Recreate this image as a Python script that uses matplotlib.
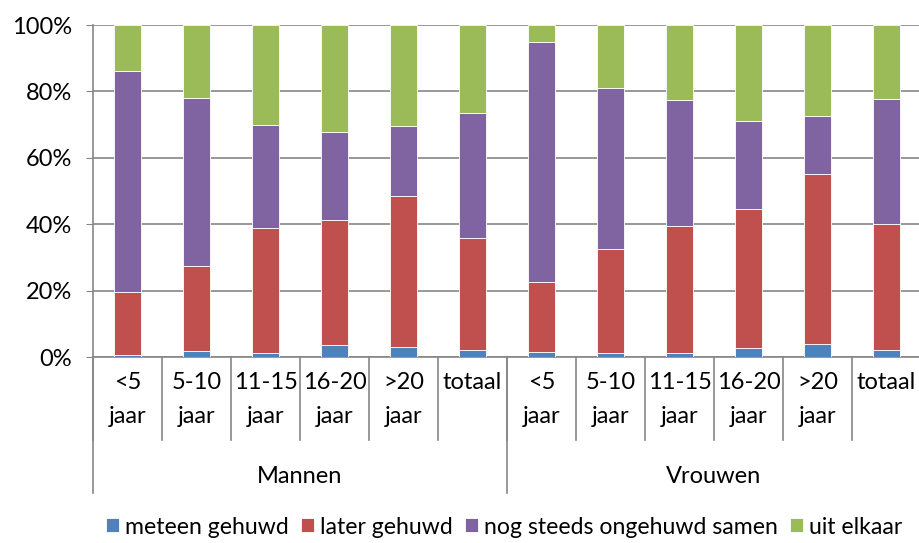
import numpy as np
import matplotlib.pyplot as plt
from matplotlib.ticker import FuncFormatter

plt.rcParams['font.family'] = ['Lato', 'DejaVu Sans']

groups = ['Mannen', 'Vrouwen']
periods = ['<5\njaar', '5-10\njaar', '11-15\njaar', '16-20\njaar', '>20\njaar', 'totaal\n ']
series = ['meteen gehuwd', 'later gehuwd', 'nog steeds ongehuwd samen', 'uit elkaar']
colors = ['#4F81BD', '#C0504D', '#8064A2', '#9BBB59']

# cumulative tops (%), Mannen then Vrouwen
meteen = [0.6, 1.8, 1.2, 3.6, 3.0, 2.0, 1.5, 1.3, 1.3, 2.7, 3.9, 2.1]
later_top = [19.5, 27.4, 38.9, 41.2, 48.5, 35.8, 22.6, 32.5, 39.5, 44.5, 55.1, 40.2]
samen_top = [86.0, 77.9, 70.0, 67.9, 69.5, 73.6, 95.0, 81.1, 77.5, 71.2, 72.6, 77.6]

later = np.array(later_top) - np.array(meteen)
samen = np.array(samen_top) - np.array(later_top)
uit = 100 - np.array(samen_top)
values = [np.array(meteen), later, samen, uit]

fig = plt.figure(figsize=(9.2, 5.43), dpi=100)
ax = fig.add_axes([93 / 920, 1 - 357 / 543, 828 / 920, 332 / 543])

x = np.arange(len(meteen))
bottom = np.zeros(len(x))
for name, vals, col in zip(series, values, colors):
    ax.bar(x, vals, bottom=bottom, width=0.4, color=col, edgecolor='#ffffff',
           linewidth=0.6, label=name, zorder=3)
    bottom += vals

fs = 17
ax.set_xlim(-0.5, len(x) - 0.5)
ax.set_ylim(0, 100)
ax.set_yticks(np.arange(0, 101, 20))
ax.yaxis.set_major_formatter(FuncFormatter(lambda v, p: f'{int(v)}%'))
ax.tick_params(axis='y', labelsize=fs, length=5, color='#868686', pad=10)
ax.grid(axis='y', color='#868686', linewidth=1.2, zorder=0)
ax.set_xticks([])
for s in ['top', 'right']:
    ax.spines[s].set_visible(False)
ax.spines['left'].set_color('#868686')
ax.spines['bottom'].set_color('#868686')
ax.spines['left'].set_linewidth(1.2)
ax.spines['bottom'].set_linewidth(1.2)

trans = ax.get_xaxis_transform()
labels = periods * len(groups)
for i, lab in enumerate(labels):
    first, second = lab.split('\n')
    ax.text(i, -0.078, first, transform=trans, ha='center', va='center', fontsize=fs)
    ax.text(i, -0.18, second, transform=trans, ha='center', va='center', fontsize=fs)

# separator lines of the two-level category axis
for b in np.arange(-0.5, len(x), 1.0):
    ax.plot([b, b], [0, -0.25], transform=trans, color='#868686', lw=1.2, clip_on=False)
n = len(periods)
for g in range(len(groups) + 1):
    b = g * n - 0.5
    ax.plot([b, b], [0, -0.41], transform=trans, color='#868686', lw=1.2, clip_on=False)
for g, name in enumerate(groups):
    ax.text(g * n + (n - 1) / 2, -0.361, name, transform=trans, ha='center', va='center', fontsize=fs)

fig.legend(loc='center', bbox_to_anchor=(0.548, 1 - 527 / 543), ncol=4, frameon=False,
           fontsize=16.6, handlelength=0.55, handleheight=0.55, handletextpad=0.25,
           columnspacing=0.55, borderaxespad=0)

fig.savefig('out.png', dpi=100)
